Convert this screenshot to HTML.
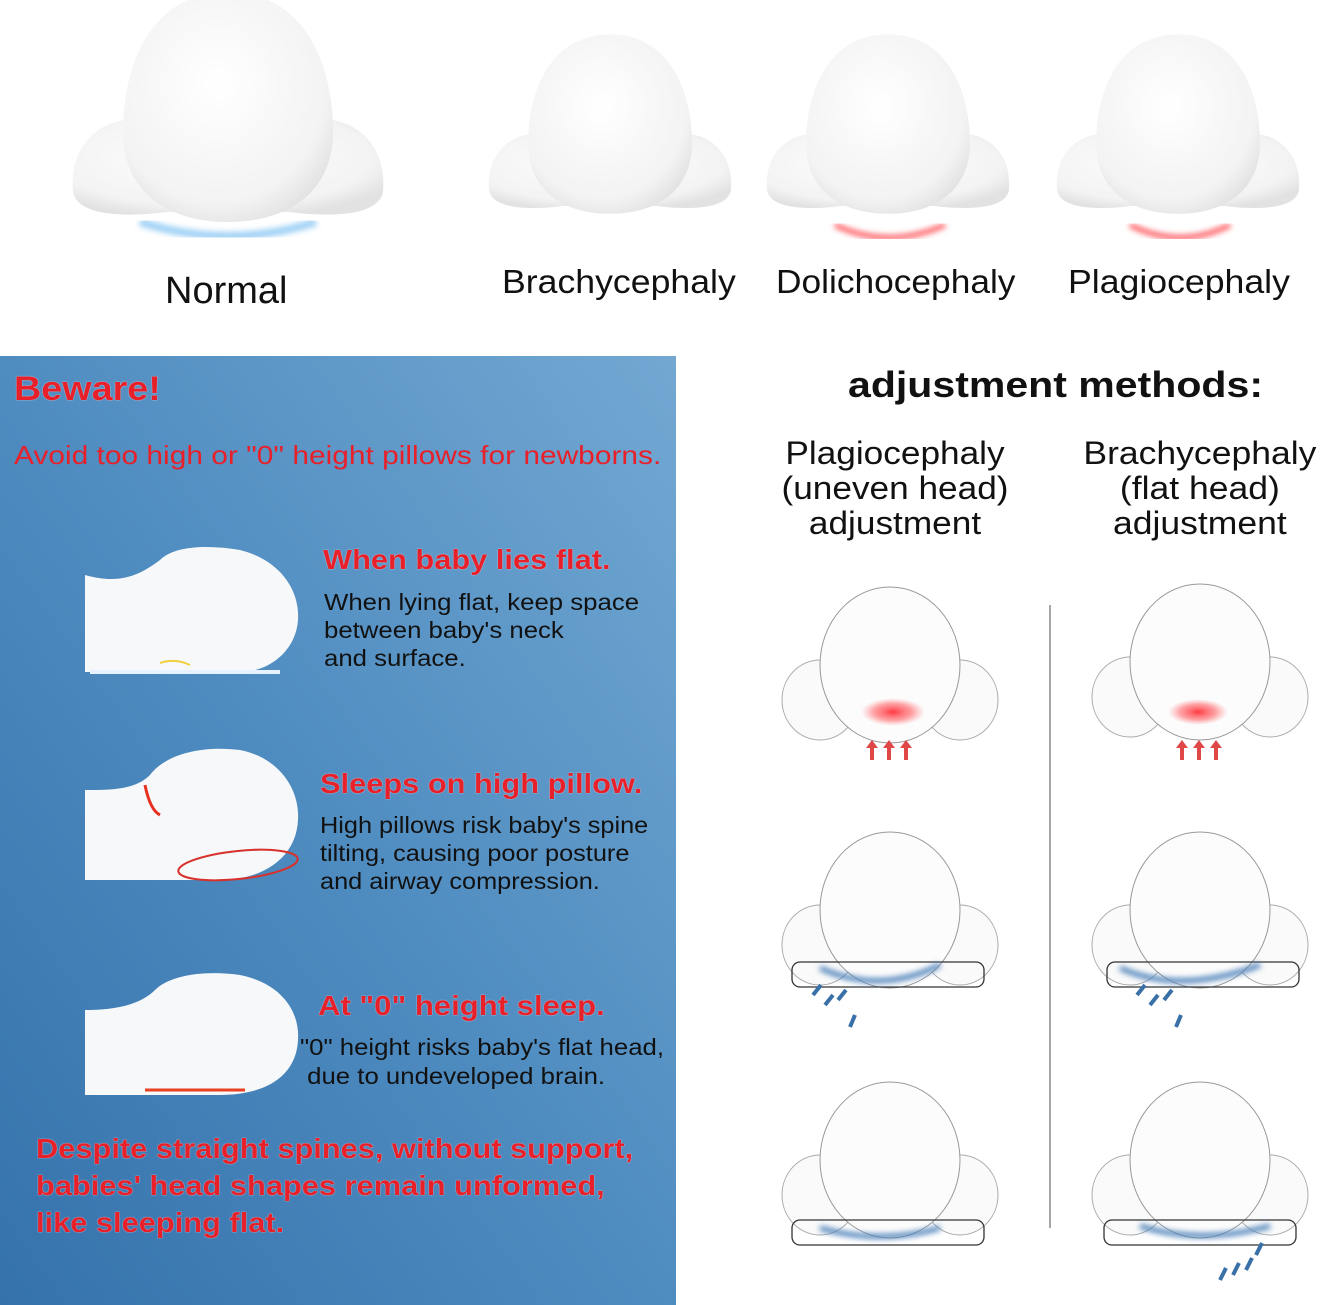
<!DOCTYPE html>
<html><head><meta charset="utf-8"><style>
body{margin:0;width:1320px;height:1305px;overflow:hidden;background:#fff;font-family:"Liberation Sans",sans-serif;position:relative}
.t{position:absolute;white-space:nowrap;transform-origin:0 0}
.red{color:#e8202a;font-weight:bold;text-shadow:0 0 1px #fff}
.blk{color:#111}
</style></head><body>
<svg width="1320" height="1305" style="position:absolute;left:0;top:0">
<defs>
<linearGradient id="bg" x1="1" y1="0" x2="0" y2="1">
<stop offset="0" stop-color="#72a8d2"/><stop offset="0.5" stop-color="#4f8cc0"/><stop offset="1" stop-color="#3572ac"/></linearGradient>
<radialGradient id="hd" cx="0.45" cy="0.4" r="0.65"><stop offset="0" stop-color="#fff"/><stop offset="0.8" stop-color="#f3f3f3"/><stop offset="1" stop-color="#e2e2e2"/></radialGradient>
<radialGradient id="rd"><stop offset="0" stop-color="#ff3a40"/><stop offset="0.6" stop-color="#ff7a7e" stop-opacity="0.7"/><stop offset="1" stop-color="#ff9a9a" stop-opacity="0"/></radialGradient>
<filter id="bl"><feGaussianBlur stdDeviation="3"/></filter>
<g id="thead">
<path d="M-155,80 C-160,20 -110,0 -80,10 L80,10 C110,0 160,20 155,80 C150,105 100,105 60,100 L-60,100 C-100,105 -150,105 -155,80Z" fill="url(#hd)"/>
<path d="M0,-120 C75,-120 105,-50 105,20 C105,80 60,110 0,110 C-60,110 -105,80 -105,20 C-105,-50 -75,-120 0,-120Z" fill="url(#hd)"/>
</g>
<g id="shead">
<ellipse cx="-70" cy="35" rx="38" ry="40" fill="#fafafa" stroke="#aaa" stroke-width="1"/>
<ellipse cx="70" cy="35" rx="38" ry="40" fill="#fafafa" stroke="#aaa" stroke-width="1"/>
<ellipse cx="0" cy="0" rx="70" ry="78" fill="#fcfcfc" stroke="#999" stroke-width="1"/>
</g>
</defs>
<rect x="0" y="356" width="676" height="949" fill="url(#bg)"/>
<g transform="translate(228,112)"><use href="#thead"/></g>
<path d="M140,222 Q228,250 316,222" stroke="#9fd0f5" stroke-width="8" fill="none" filter="url(#bl)"/>
<g transform="translate(610,128) scale(0.78)"><use href="#thead"/></g>
<path d="M560,232 L655,232" stroke="#ff5a60" stroke-width="4" fill="none" filter="url(#bl)"/>
<g transform="translate(888,128) scale(0.78)"><use href="#thead"/></g>
<path d="M835,225 Q888,250 945,225" stroke="#ff5a60" stroke-width="5" fill="none" filter="url(#bl)"/>
<g transform="translate(1178,128) scale(0.78)"><use href="#thead"/></g>
<path d="M1130,225 Q1180,250 1230,225" stroke="#ff5a60" stroke-width="5" fill="none" filter="url(#bl)"/>
<g fill="#f6f8fa">
<path d="M85,575 C120,585 140,575 160,560 C175,545 210,545 240,550 C280,560 300,590 298,620 C296,650 270,672 240,672 L85,672Z"/>
<path d="M85,790 C110,790 135,790 150,775 C165,755 200,745 240,750 C280,758 300,790 298,820 C296,860 260,880 220,880 L85,880Z"/>
<path d="M85,1010 C115,1010 140,1005 155,990 C170,975 205,970 240,975 C280,983 300,1010 298,1040 C296,1080 260,1095 220,1095 L85,1095Z"/>
</g>
<rect x="90" y="670" width="190" height="4" fill="#e6f2ff"/>
<path d="M160,663 Q175,658 190,665" stroke="#f0d040" stroke-width="2" fill="none"/>
<path d="M145,785 Q150,810 160,815" stroke="#e83020" stroke-width="3" fill="none"/>
<ellipse cx="238" cy="865" rx="60" ry="14" fill="none" stroke="#d8302a" stroke-width="2" transform="rotate(-6 238 865)"/>
<path d="M145,1090 L245,1090" stroke="#e84020" stroke-width="3"/>
<line x1="1050" y1="605" x2="1050" y2="1228" stroke="#888" stroke-width="1.5"/>
<g transform="translate(890,665)"><use href="#shead"/></g>
<ellipse cx="893" cy="712" rx="32" ry="14" fill="url(#rd)"/>
<g transform="translate(1200,662)"><use href="#shead"/></g>
<ellipse cx="1198" cy="712" rx="30" ry="13" fill="url(#rd)"/>
<g fill="#e04848"><path d="M870,760 h4 v-12 h4 l-6,-8 l-6,8 h4z"/><path d="M887,760 h4 v-12 h4 l-6,-8 l-6,8 h4z"/><path d="M904,760 h4 v-12 h4 l-6,-8 l-6,8 h4z"/>
<path d="M1180,760 h4 v-12 h4 l-6,-8 l-6,8 h4z"/><path d="M1197,760 h4 v-12 h4 l-6,-8 l-6,8 h4z"/><path d="M1214,760 h4 v-12 h4 l-6,-8 l-6,8 h4z"/></g>
<g transform="translate(890,910)"><use href="#shead"/></g>
<g transform="translate(1200,910)"><use href="#shead"/></g>
<g transform="translate(890,1160)"><use href="#shead"/></g>
<g transform="translate(1200,1160)"><use href="#shead"/></g>
<g fill="none" stroke="#333" stroke-width="1.3">
<rect x="792" y="962" width="192" height="25" rx="8"/><rect x="1107" y="962" width="192" height="25" rx="8"/>
<rect x="792" y="1220" width="192" height="25" rx="8"/><rect x="1104" y="1220" width="192" height="25" rx="8"/></g>
<g stroke="#4a7fb8" stroke-width="5" fill="none" filter="url(#bl)">
<path d="M820,968 Q880,995 940,965"/><path d="M1120,968 Q1180,995 1260,965"/>
<path d="M820,1228 Q880,1245 940,1228"/><path d="M1140,1226 Q1200,1245 1270,1226"/></g>
<g stroke="#3a70a8" stroke-width="4" fill="none">
<path d="M813,995 l8,-10"/><path d="M825,1005 l8,-10"/><path d="M838,1000 l8,-10"/><path d="M850,1027 l5,-12"/>
<path d="M1137,995 l8,-10"/><path d="M1150,1005 l8,-10"/><path d="M1164,1000 l8,-10"/><path d="M1176,1027 l5,-12"/>
<path d="M1220,1280 l6,-12"/><path d="M1233,1275 l6,-12"/><path d="M1246,1270 l6,-12"/><path d="M1256,1255 l6,-12"/></g>
</svg>
<div class="t blk" style="left:165px;top:270px;font-size:38px">Normal</div>
<div class="t blk" style="left:502px;top:263px;font-size:33px;transform:scaleX(1.08)">Brachycephaly</div>
<div class="t blk" style="left:776px;top:263px;font-size:33px;transform:scaleX(1.07)">Dolichocephaly</div>
<div class="t blk" style="left:1068px;top:263px;font-size:33px;transform:scaleX(1.08)">Plagiocephaly</div>
<div class="t red" style="left:14px;top:370px;font-size:34px;transform:scaleX(1.11)">Beware!</div>
<div class="t" style="left:14px;top:440px;font-size:26px;color:#e8202a;transform:scaleX(1.15)">Avoid too high or "0" height pillows for newborns.</div>
<div class="t red" style="left:323px;top:544px;font-size:28px;transform:scaleX(1.1)">When baby lies flat.</div>
<div class="t blk" style="left:324px;top:588px;font-size:23px;line-height:28px;transform:scaleX(1.12)">When lying flat, keep space<br>between baby's neck<br>and surface.</div>
<div class="t red" style="left:320px;top:768px;font-size:28px;transform:scaleX(1.1)">Sleeps on high pillow.</div>
<div class="t blk" style="left:320px;top:811px;font-size:23px;line-height:28px;transform:scaleX(1.1)">High pillows risk baby's spine<br>tilting, causing poor posture<br>and airway compression.</div>
<div class="t red" style="left:318px;top:990px;font-size:28px;transform:scaleX(1.11)">At "0" height sleep.</div>
<div class="t blk" style="left:300px;top:1033px;font-size:23px;line-height:29px;transform:scaleX(1.12)">"0" height risks baby's flat head,<br>&nbsp;due to undeveloped brain.</div>
<div class="t red" style="left:36px;top:1130px;font-size:28px;line-height:37px;transform:scaleX(1.1)">Despite straight spines, without support,<br>babies' head shapes remain unformed,<br>like sleeping flat.</div>
<div class="t blk" style="left:848px;top:364px;font-size:36px;font-weight:bold;transform:scaleX(1.14)">adjustment methods:</div>
<div class="t blk" style="left:763px;top:436px;width:240px;text-align:center;font-size:32px;line-height:35px;transform:scaleX(1.1)">Plagiocephaly<br>(uneven head)<br>adjustment</div>
<div class="t blk" style="left:1080px;top:436px;width:216px;text-align:center;font-size:32px;line-height:35px;transform:scaleX(1.11)">Brachycephaly<br>(flat head)<br>adjustment</div>
</body></html>
